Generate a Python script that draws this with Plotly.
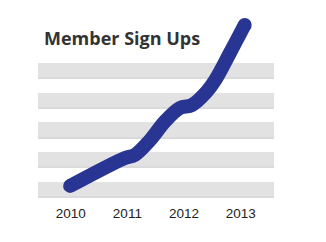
import plotly.graph_objects as go

# Category ticks
years = [2010, 2011, 2012, 2013]
tick_labels = ["2010", "2011", "2012", "2013"]
band_levels = [0, 100, 200, 300, 400]

# Sign-up curve (fractional year, sign-ups)
curve_x = [2009.99, 2010.96, 2011.13, 2011.40, 2011.66, 2011.93,
           2012.14, 2012.40, 2012.55, 2012.81, 2013.07]
curve_y = [12, 106, 116, 166, 228, 274, 284, 329, 368, 459, 553]

LINE = "rgb(40,53,147)"
Y_RANGE = [-35.3, 603]
SHADOW_SHIFT = 25.5  # gridline shadow offset in axis units

fig = go.Figure()
# invisible trace to activate the shadow axis
fig.add_trace(go.Scatter(x=[years[0]], y=[band_levels[0]], yaxis="y2", mode="markers",
                         marker=dict(opacity=0), hoverinfo="skip"))
fig.add_trace(go.Scatter(
    x=curve_x, y=curve_y, mode="lines",
    line=dict(color=LINE, width=14, shape="spline", smoothing=1.0),
    hoverinfo="skip", cliponaxis=False,
))
fig.add_trace(go.Scatter(
    x=[curve_x[0], curve_x[-1]], y=[curve_y[0], curve_y[-1]], mode="markers",
    marker=dict(color=LINE, size=14, line=dict(width=0)),
    hoverinfo="skip", cliponaxis=False,
))

fig.update_layout(
    width=326, height=242,
    margin=dict(l=38, r=52, t=10, b=42),
    paper_bgcolor="white", plot_bgcolor="white",
    showlegend=False,
    title=dict(text="<b>Member Sign Ups</b>", xref="container", yref="container",
               x=44/326, xanchor="left", y=1-39/242, yanchor="middle",
               font=dict(family="Open Sans", size=18, color="#333333")),
    xaxis=dict(range=[2009.423, 2013.587], tickvals=years, ticktext=tick_labels,
               showgrid=False, zeroline=False, showline=False, ticks="",
               ticklabelstandoff=3,
               tickfont=dict(family="Liberation Sans", size=13.5, color="#222222")),
    yaxis2=dict(range=[Y_RANGE[0] + SHADOW_SHIFT, Y_RANGE[1] + SHADOW_SHIFT],
                tickvals=band_levels, showticklabels=False, overlaying="y",
                showgrid=True, gridcolor="#dadadc", gridwidth=1.5,
                zeroline=False, showline=False, ticks=""),
    yaxis=dict(range=Y_RANGE, tickvals=band_levels, showticklabels=False,
               showgrid=True, gridcolor="#e2e2e3", gridwidth=15,
               zeroline=False, showline=False, ticks=""),
)

fig.write_html("out.html")
